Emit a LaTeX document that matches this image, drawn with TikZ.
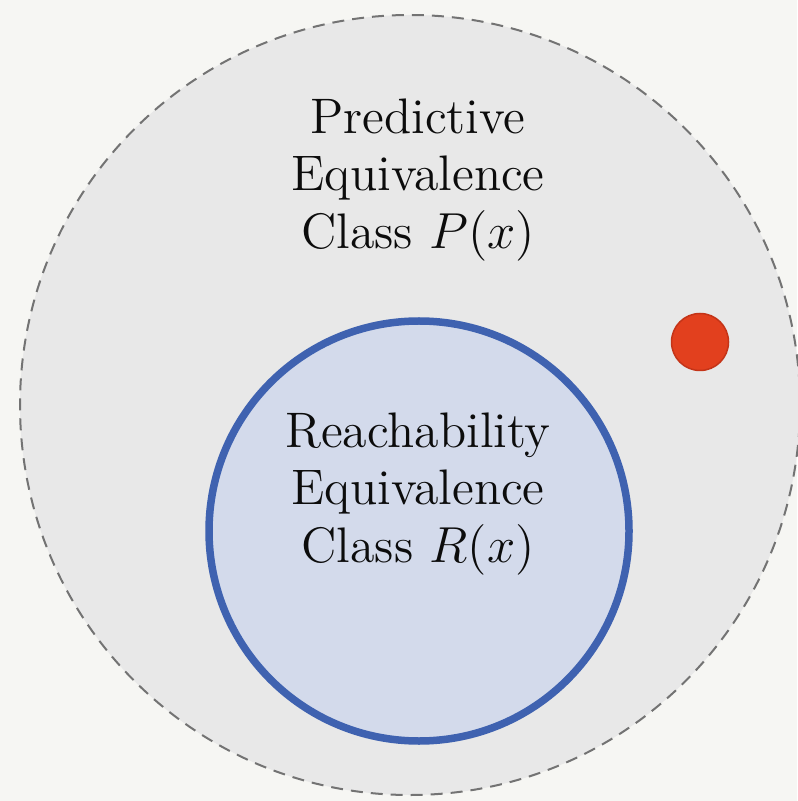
\documentclass[tikz,border=0pt]{standalone}
\usepackage{tikz}

\begin{document}
\begin{tikzpicture}[x=1mm,y=-1mm,
  classlabel/.style={anchor=center,text={rgb,255:red,12;green,12;blue,12},align=center,font=\fontsize{14.2}{16.4}\selectfont}]
% 79.7mm x 80.1mm, light appearance
\useasboundingbox (0,0) rectangle (79.7,80.1);
\path[fill={rgb,255:red,246;green,246;blue,243}] (0,0) rectangle (79.7,80.1);
% predictive class
\path[fill={rgb,255:red,232;green,232;blue,232},draw={rgb,255:red,115;green,115;blue,115},line width=0.2mm,dash pattern=on 1.2mm off 0.8mm] (41.0,40.5) circle[radius=39.0];
\node[classlabel] (predictive) at (41.8,18.0) {Predictive\\Equivalence\\Class $P(x)$};
% reachability class
\path[fill={rgb,255:red,211;green,218;blue,235},draw={rgb,255:red,63;green,98;blue,176},line width=0.75mm] (41.9,53.1) circle[radius=21.0];
\node[classlabel] (reachability) at (41.8,49.4) {Reachability\\Equivalence\\Class $R(x)$};
% point outside R(x)
\path[fill={rgb,255:red,226;green,64;blue,30},draw={rgb,255:red,196;green,52;blue,24},line width=0.15mm] (70.0,34.2) circle[radius=2.85];
\end{tikzpicture}
\end{document}
